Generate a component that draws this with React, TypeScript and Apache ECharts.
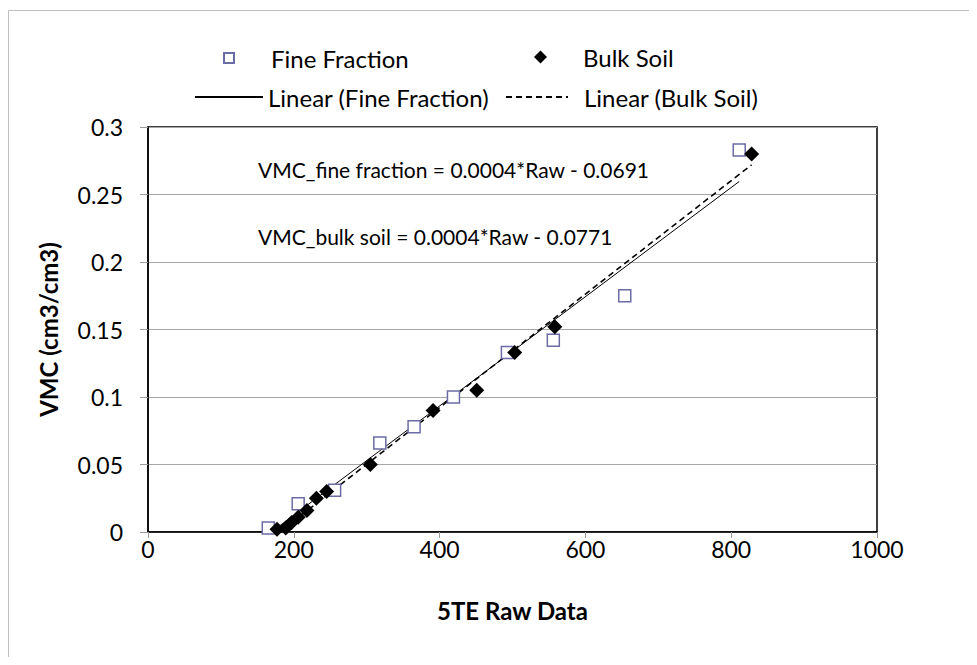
import React, { useEffect, useRef } from "react";
import * as echarts from "echarts";

const fineRaw = [165, 206, 256, 318, 365, 419, 493, 556, 654, 811];
const fineVmc = [0.003, 0.021, 0.031, 0.066, 0.078, 0.1, 0.133, 0.142, 0.175, 0.283];
const bulkRaw = [177, 189, 197, 206, 218, 231, 245, 305, 391, 451, 503, 558, 828];
const bulkVmc = [0.002, 0.003, 0.007, 0.011, 0.016, 0.025, 0.03, 0.05, 0.09, 0.105, 0.133, 0.152, 0.28];
const fineEquation = "VMC_fine fraction = 0.0004*Raw - 0.0691";
const bulkEquation = "VMC_bulk soil = 0.0004*Raw - 0.0771";

const FONT = "Lato, 'Open Sans', sans-serif";

function fit(xs: number[], ys: number[]) {
  const n = xs.length;
  const mx = xs.reduce((a, b) => a + b, 0) / n;
  const my = ys.reduce((a, b) => a + b, 0) / n;
  let sxy = 0, sxx = 0;
  for (let i = 0; i < n; i++) {
    sxy += (xs[i] - mx) * (ys[i] - my);
    sxx += (xs[i] - mx) * (xs[i] - mx);
  }
  const b = sxy / sxx;
  const a = my - b * mx;
  const x0 = Math.min(...xs), x1 = Math.max(...xs);
  return [[x0, a + b * x0], [x1, a + b * x1]];
}

export default function App() {
  const ref = useRef<HTMLDivElement>(null);
  useEffect(() => {
    if (!ref.current) return;
    const chart = echarts.init(ref.current, null, { renderer: "svg" });
    const text = (pad: number) => ({
      fontFamily: FONT,
      fontSize: 24,
      color: "#000",
      padding: [0, 0, 0, pad],
    });
    const symLegend = {
      padding: 0,
      itemGap: 0,
      selectedMode: false,
    };
    const lineLegend = {
      padding: 0,
      itemHeight: 10,
      itemGap: 0,
      selectedMode: false,
      itemStyle: { color: "rgba(0,0,0,0)", borderWidth: 0, opacity: 0 },
    };
    chart.setOption({
      animation: false,
      backgroundColor: "#fff",
      grid: {
        left: 140,
        right: 92,
        top: 119,
        bottom: 125,
        show: true,
        borderColor: "#000",
        borderWidth: 1.5,
      },
      legend: [
        { ...symLegend, itemWidth: 10, itemHeight: 10, data: ["Fine Fraction"], left: 215, top: 38, textStyle: text(32) },
        { ...symLegend, itemWidth: 13, itemHeight: 13, data: ["Bulk Soil"], left: 526, top: 37, textStyle: text(31) },
        { ...lineLegend, itemWidth: 68, data: ["Linear (Fine Fraction)"], left: 186, top: 77, textStyle: text(0) },
        { ...lineLegend, itemWidth: 62, data: ["Linear (Bulk Soil)"], left: 497, top: 77, textStyle: text(11) },
      ],
      xAxis: {
        type: "value",
        min: 0,
        max: 1000,
        interval: 200,
        name: "5TE Raw Data",
        nameLocation: "middle",
        nameGap: 66,
        nameTextStyle: { fontFamily: FONT, fontSize: 24, fontWeight: "bold", color: "#000" },
        axisLine: { show: true, lineStyle: { color: "#000", width: 1.5 } },
        axisTick: { show: true, length: 6, lineStyle: { color: "#999" } },
        axisLabel: {
          fontFamily: FONT,
          fontSize: 23,
          color: "#000",
          margin: 5,
          formatter: (v: number) => String(v),
        },
        splitLine: { show: false },
      },
      yAxis: {
        type: "value",
        min: 0,
        max: 0.3,
        interval: 0.05,
        name: "VMC (cm3/cm3)",
        nameLocation: "middle",
        nameGap: 88,
        nameTextStyle: { fontFamily: FONT, fontSize: 24, fontWeight: "bold", color: "#000" },
        axisLine: { show: true, lineStyle: { color: "#000", width: 1.5 } },
        axisTick: { show: true, length: 8, lineStyle: { color: "#999" } },
        axisLabel: { fontFamily: FONT, fontSize: 23, color: "#000", margin: 25 },
        splitLine: { show: true, lineStyle: { color: "#a6a6a6", width: 1 } },
      },
      graphic: [
        {
          type: "rect",
          silent: true,
          shape: { x: 0.5, y: 2.5, width: 2000, height: 2000 },
          style: { fill: "none", stroke: "#c0c0c0", lineWidth: 1 },
        },
        {
          type: "text",
          left: 250,
          top: 151,
          style: { text: fineEquation, fontFamily: FONT, fontSize: 21, fill: "#000" },
        },
        {
          type: "text",
          left: 250,
          top: 218,
          style: { text: bulkEquation, fontFamily: FONT, fontSize: 21, fill: "#000" },
        },
      ],
      series: [
        {
          name: "Linear (Fine Fraction)",
          type: "line",
          data: fit(fineRaw, fineVmc),
          symbol: "none",
          clip: true,
          lineStyle: { color: "#000", width: 1, type: "solid" },
          itemStyle: { color: "#000" },
          z: 3,
        },
        {
          name: "Linear (Bulk Soil)",
          type: "line",
          data: fit(bulkRaw, bulkVmc),
          symbol: "none",
          clip: true,
          lineStyle: { color: "#000", width: 1.6, type: [6, 4] },
          itemStyle: { color: "#000" },
          z: 3,
        },
        {
          name: "Fine Fraction",
          type: "scatter",
          symbol: "rect",
          symbolSize: 12,
          data: fineRaw.map((x, i) => [x, fineVmc[i]]),
          itemStyle: { color: "#fff", borderColor: "#6b6ba6", borderWidth: 1.5, opacity: 1 },
          z: 4,
        },
        {
          name: "Bulk Soil",
          type: "scatter",
          symbol: "diamond",
          symbolSize: 15,
          data: bulkRaw.map((x, i) => [x, bulkVmc[i]]),
          itemStyle: { color: "#000", opacity: 1 },
          z: 5,
        },
      ],
    });
    return () => chart.dispose();
  }, []);
  return <div ref={ref} style={{ width: 961, height: 649 }} />;
}
